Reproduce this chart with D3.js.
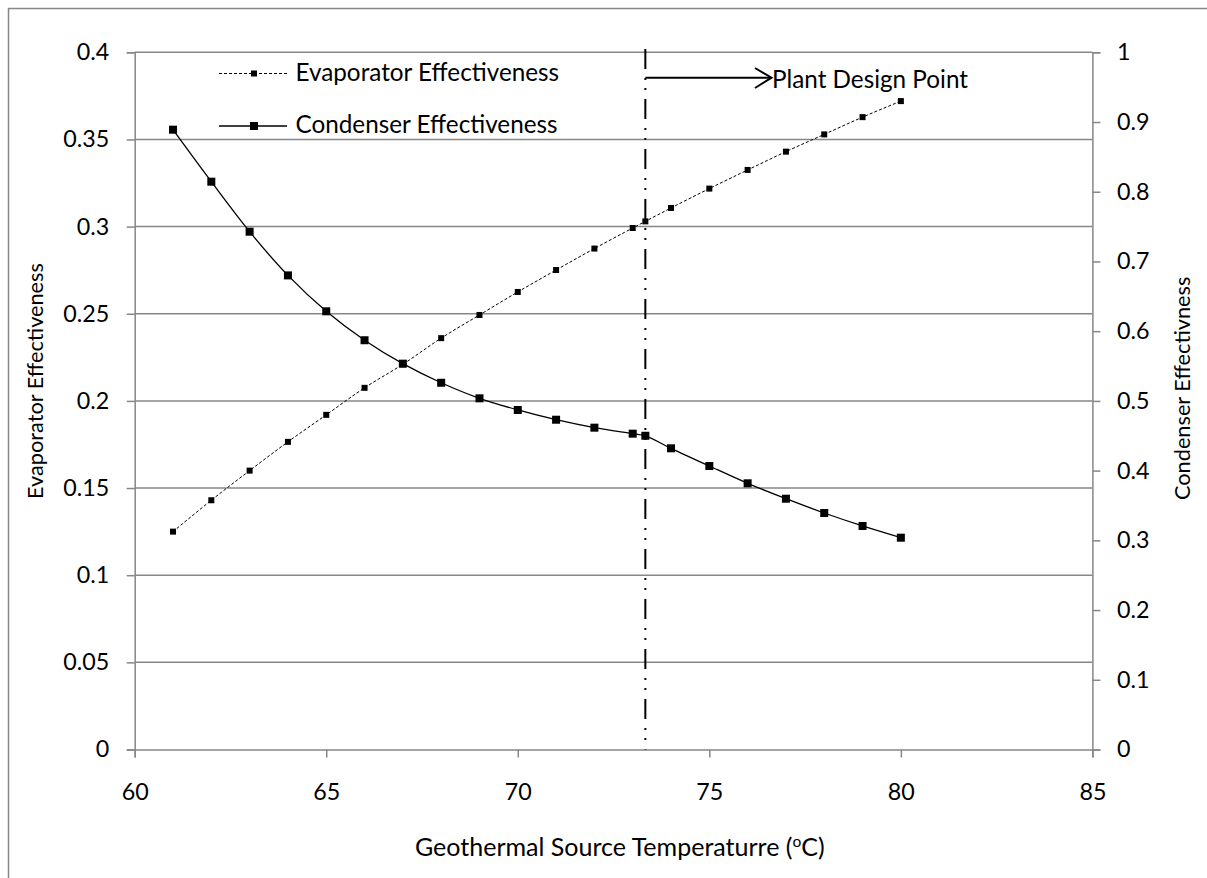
<!DOCTYPE html>
<html><head><meta charset="utf-8">
<script src="https://cdn.jsdelivr.net/npm/d3@7"></script>
<style>body{margin:0;background:#fff}svg{display:block}text{font-family:Lato,"Open Sans",sans-serif;fill:#000}</style>
</head><body><svg id="c" width="1207" height="878"></svg>
<script>
const temps = [61,62,63,64,65,66,67,68,69,70,71,72,73,73.33,74,75,76,77,78,79,80];
const evaporator = [0.125,0.143,0.160,0.1765,0.192,0.2075,0.221,0.236,0.2493,0.2625,0.2751,0.2874,0.2992,0.303,0.3107,0.3218,0.3325,0.343,0.3529,0.3628,0.372];
const condenser = [0.889,0.8144,0.7427,0.680,0.6285,0.587,0.5534,0.526,0.5037,0.487,0.473,0.4616,0.453,0.450,0.432,0.4066,0.3818,0.3597,0.3392,0.3206,0.3038];
const xTicks = [60,65,70,75,80,85];
const leftTicks = [0,0.05,0.1,0.15,0.2,0.25,0.3,0.35,0.4];
const rightTicks = [0,0.1,0.2,0.3,0.4,0.5,0.6,0.7,0.8,0.9,1];
const designPoint = 73.33;

const svg = d3.select("#c");
function sizeFor(str, target){
  const t = svg.append("text").attr("font-size",20).text(str);
  const w = t.node().getComputedTextLength(); t.remove();
  return 20*target/w;
}
const FS_TICK = sizeFor("0.25", 46);
const FS_TITLE = sizeFor("Evaporator Effectiveness", 236);
const FS_NOTE = sizeFor("Plant Design Point", 196);

const L=134.7,R=1092.4,T=52.3,B=749.5;
const x = d3.scaleLinear().domain([60,85]).range([L,R]);
const yL = d3.scaleLinear().domain([0,0.4]).range([B,T]);
const yR = d3.scaleLinear().domain([0,1]).range([B,T]);
const grey="#878787";

svg.append("rect").attr("x",8.5).attr("y",8.5).attr("width",1230).attr("height",900).attr("fill","none").attr("stroke",grey).attr("stroke-width",1.5);

svg.append("g").selectAll("line").data(leftTicks.slice(1)).join("line")
  .attr("x1",L).attr("x2",R).attr("y1",d=>yL(d)).attr("y2",d=>yL(d))
  .attr("stroke",grey).attr("stroke-width",1.5);

function styleAxis(g){
  g.select(".domain").attr("stroke",grey).attr("stroke-width",1.5);
  g.selectAll(".tick line").attr("stroke",grey).attr("stroke-width",1.5);
  g.selectAll(".tick text").attr("font-size",FS_TICK).attr("font-family","Lato,'Open Sans',sans-serif");
}
svg.append("g").attr("transform",`translate(${L},0)`)
  .call(d3.axisLeft(yL).tickValues(leftTicks).tickSizeOuter(0).tickSize(8).tickPadding(17.5).tickFormat(d=>String(+d.toFixed(2))))
  .call(styleAxis);
svg.append("g").attr("transform",`translate(${R},0)`)
  .call(d3.axisRight(yR).tickValues(rightTicks).tickSizeOuter(0).tickSize(8).tickPadding(16.5).tickFormat(d=>String(+d.toFixed(1))))
  .call(styleAxis);
svg.append("g").attr("transform",`translate(0,${B})`)
  .call(d3.axisBottom(x).tickValues(xTicks).tickSizeOuter(0).tickSize(8).tickPadding(25.5))
  .call(styleAxis);

// design point
svg.append("line").attr("x1",x(designPoint)).attr("x2",x(designPoint)).attr("y1",49).attr("y2",B)
  .attr("stroke","#000").attr("stroke-width",2).attr("stroke-dasharray","20,9,2,8,2,9");
svg.append("line").attr("x1",x(designPoint)).attr("x2",771).attr("y1",77.7).attr("y2",77.7).attr("stroke","#000").attr("stroke-width",2);
svg.append("path").attr("d","M755,68 L771.5,77.7 L755,88").attr("fill","none").attr("stroke","#000").attr("stroke-width",2);
svg.append("text").attr("x",772).attr("y",87.5).attr("font-size",FS_NOTE).text("Plant Design Point");

const curve = d3.curveCatmullRom.alpha(0.5);
const evapLine = d3.line().x((d,i)=>x(temps[i])).y(d=>yL(d)).curve(curve);
const condLine = d3.line().x((d,i)=>x(temps[i])).y(d=>yR(d)).curve(curve);

svg.append("path").attr("d",evapLine(evaporator)).attr("fill","none").attr("stroke","#000").attr("stroke-width",1).attr("stroke-dasharray","3,2");
svg.append("path").attr("d",condLine(condenser)).attr("fill","none").attr("stroke","#000").attr("stroke-width",1.3);

const ES=6, CS=8;
svg.append("g").selectAll("rect").data(evaporator).join("rect")
  .attr("x",(d,i)=>x(temps[i])-ES/2).attr("y",d=>yL(d)-ES/2).attr("width",ES).attr("height",ES).attr("fill","#000");
svg.append("g").selectAll("rect").data(condenser).join("rect")
  .attr("x",(d,i)=>x(temps[i])-CS/2).attr("y",d=>yR(d)-CS/2).attr("width",CS).attr("height",CS).attr("fill","#000");

// legend
const lg = svg.append("g");
lg.append("line").attr("x1",219).attr("x2",287).attr("y1",73.5).attr("y2",73.5).attr("stroke","#000").attr("stroke-width",1).attr("stroke-dasharray","3,2");
lg.append("rect").attr("x",254-ES/2).attr("y",73.5-ES/2).attr("width",ES).attr("height",ES).attr("fill","#000");
lg.append("text").attr("x",295.5).attr("y",80.5).attr("font-size",FS_NOTE).text("Evaporator Effectiveness");
lg.append("line").attr("x1",219).attr("x2",287).attr("y1",126).attr("y2",126).attr("stroke","#000").attr("stroke-width",1.3);
lg.append("rect").attr("x",254-CS/2).attr("y",126-CS/2).attr("width",CS).attr("height",CS).attr("fill","#000");
lg.append("text").attr("x",295.5).attr("y",133).attr("font-size",FS_NOTE).text("Condenser Effectiveness");

// x title fitted to its measured span
const xt = svg.append("text").attr("x",415).attr("y",856).attr("font-size",20);
xt.append("tspan").text("Geothermal Source Temperaturre (");
const t2 = xt.append("tspan").attr("font-size",12.4).attr("dy",-7).text("o");
const t3 = xt.append("tspan").attr("dy",7).text("C)");
const k = 410 / xt.node().getComputedTextLength();
xt.attr("font-size",20*k);
t2.attr("font-size",12.4*k).attr("dy",-7*k);
t3.attr("dy",7*k);

svg.append("text").attr("transform","translate(43,499) rotate(-90)").attr("text-anchor","start").attr("font-size",FS_TITLE).text("Evaporator Effectiveness");
svg.append("text").attr("transform","translate(1190,500) rotate(-90)").attr("text-anchor","start").attr("font-size",FS_TITLE).text("Condenser Effectivness");
</script></body></html>
